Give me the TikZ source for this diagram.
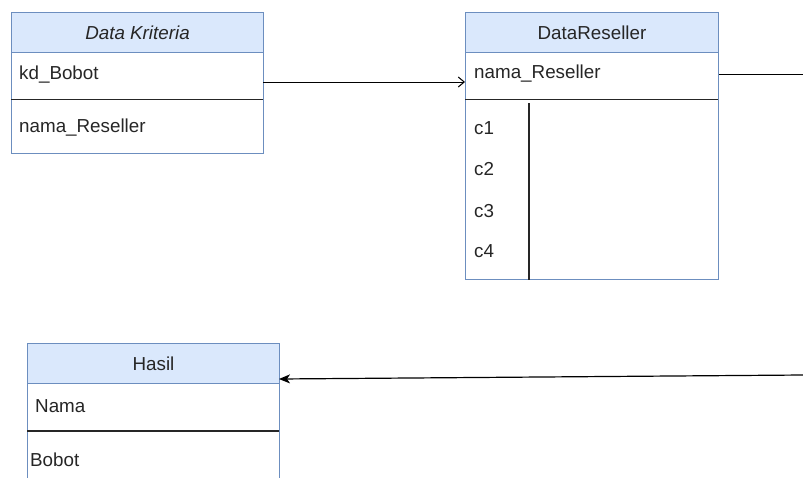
\documentclass[tikz,border=0pt]{standalone}
\usepackage{fontspec}
\setmainfont{Liberation Sans}
\usetikzlibrary{arrows.meta}
\definecolor{headfill}{HTML}{DAE8FC}
\definecolor{headline}{HTML}{6C8EBF}
\tikzset{>=stealth}

\begin{document}
\begin{tikzpicture}[x = 1pt, y = -1pt,
    every node/.style = {font = \fontsize{18.8}{22}\selectfont, text = black!85, inner sep = 0pt},
    box/.style = {draw = headline, line width = 1pt, fill = white, minimum width = 252pt, anchor = north west},
    head/.style = {box, fill = headfill, minimum height = 40pt},
    field/.style = {anchor = west},
    sep/.style = {line width = 1.2pt, color = black!85}]
    \useasboundingbox (0,0) rectangle (803,477);

    \node [box, minimum height = 141pt] (kriteria) at (11,12) {};
    \node [head] (kriteriaHead) at (kriteria.north west) {\itshape Data Kriteria};
    \node [field] (kdBobot) at (19,75) {kd\_Bobot};
    \node [field] (kriteriaNama) at (19,128) {nama\_Reseller};
    \draw [sep] (11,99.5) -- (263,99.5);

    \node [box, minimum width = 253pt, minimum height = 267pt] (reseller) at (465,12) {};
    \node [head, minimum width = 253pt] (resellerHead) at (reseller.north west) {DataReseller};
    \node [field] (resellerNama) at (474,74) {nama\_Reseller};
    \draw [sep] (465,99.5) -- (718,99.5);
    \foreach \i/\y in {1/128, 2/169, 3/211, 4/251}
    \node [field] (c\i) at (474,\y) {c\i};
    \draw [sep] (529,103) -- (529,280);

    \node [box, minimum height = 170pt] (hasil) at (27,343) {};
    \node [head] (hasilHead) at (hasil.north west) {Hasil};
    \node [field] (hasilNama) at (35,406) {Nama};
    \node [field] (hasilBobot) at (30,460) {Bobot};
    \draw [sep] (27,431) -- (279,431);

    \coordinate (kdOut) at (263,82);
    \coordinate (resOut) at (803,74);
    \coordinate (hasilIn) at (803,375);
    \coordinate (hasilPort) at (279,379);

    \draw [-{Straight Barb[length = 6pt, width = 10pt]}, line width = 1pt] (kdOut) -- (reseller.west |- kdOut);
    \draw [line width = 1pt] (reseller.east |- resellerNama) -- (resOut);
    \draw [-{Stealth[length = 11pt, width = 9pt, inset = 3pt]}, line width = 1.2pt] (hasilIn) -- (hasilPort);
\end{tikzpicture}
\end{document}
